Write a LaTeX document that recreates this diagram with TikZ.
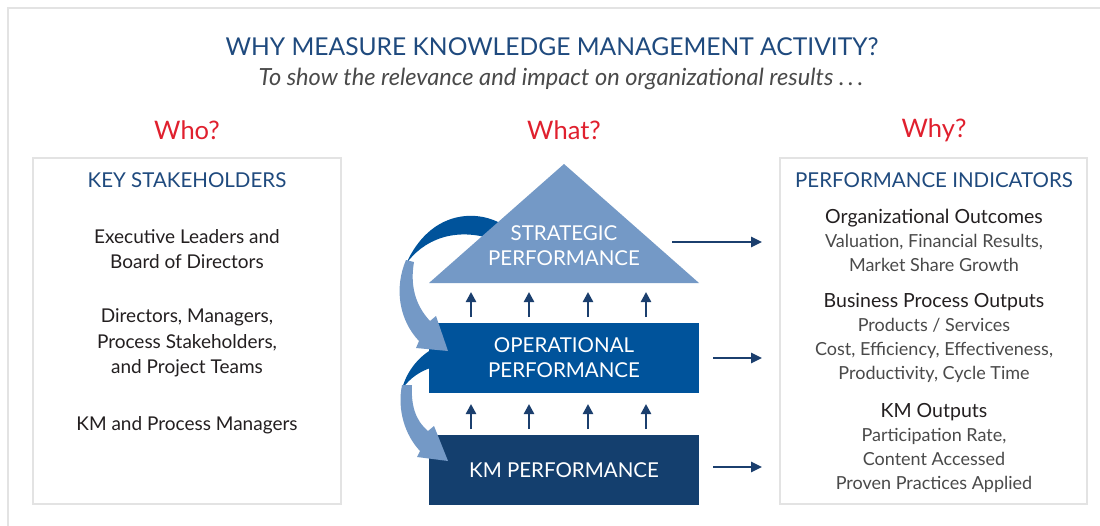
\documentclass[tikz,border=0pt]{standalone}
\usepackage{fontspec}
\setmainfont{Lato}
\usetikzlibrary{arrows.meta}
\definecolor{titleblue}{HTML}{1F4A7E}
\definecolor{whyred}{HTML}{E0202E}
\definecolor{lightblue}{HTML}{7499C6}
\definecolor{midblue}{HTML}{00539B}
\definecolor{darkblue}{HTML}{143F6E}
\definecolor{arrowblue}{HTML}{1B3F6E}
\definecolor{framegray}{HTML}{E3E3E3}
\definecolor{textdark}{HTML}{231F20}
\definecolor{textgray}{HTML}{4A4A4A}
\begin{document}
\begin{tikzpicture}[x=1pt,y=-1pt,
  panel/.style={draw=framegray, line width=2.5pt, fill=white},
  heading/.style={text=titleblue, font=\fontsize{20.5}{24}\selectfont},
  body/.style={text=textdark, align=center, font=\fontsize{19}{25.5}\selectfont, inner sep=0pt},
  ind/.style={align=center, font=\fontsize{18}{24}\selectfont, inner sep=0pt},
  question/.style={text=whyred, font=\fontsize{25.5}{30}\selectfont},
  layer/.style={minimum width=270pt, minimum height=70pt, inner sep=0pt, text=white, align=center, font=\fontsize{20.5}{25}\selectfont},
  uparrow/.style={draw=arrowblue, line width=2.4pt, -{Triangle[length=10pt,width=10pt]}},
  rarrow/.style={draw=arrowblue, line width=2.5pt, -{Triangle[length=11pt,width=10pt]}}]
\useasboundingbox (0,0) rectangle (1100,525);
\fill[white] (0,0) rectangle (1100,525);
% outer frame
\draw[framegray, line width=2.5pt] (8,527) -- (8,8) -- (1102,8);
% title
\node[text=titleblue, font=\fontsize{24.6}{30}\selectfont] (title) at (552,47) {WHY MEASURE KNOWLEDGE MANAGEMENT ACTIVITY?};
\node[text=textgray, font=\fontsize{23.6}{28}\selectfont\itshape] (subtitle) at (561,79) {To show the relevance and impact on organizational results~.\,.\,.};
% questions
\node[question] (who) at (187,130) {Who?};
\node[question] (what) at (564,130) {What?};
\node[question] (why) at (934,130) {Why?};
% panels
\draw[panel] (33,158) rectangle (341,504);
\draw[panel] (780,158) rectangle (1087,504);
% left panel text
\node[heading] (ks) at (187,180) {KEY STAKEHOLDERS};
\node[body] (exec) at (187,249) {Executive Leaders and\\Board of Directors};
\node[body] (dirs) at (187,343) {Directors, Managers,\\Process Stakeholders,\\and Project Teams};
\node[body] (kmpm) at (187,425) {KM and Process Managers};
% right panel text
\node[heading] (pi) at (934,180) {PERFORMANCE INDICATORS};
\node[ind] (oo) at (934,240) {\textcolor{textdark}{\fontsize{19.5}{24}\selectfont Organizational Outcomes}\\\textcolor{textgray}{Valuation, Financial Results,}\\\textcolor{textgray}{Market Share Growth}};
\node[ind] (bpo) at (934,338) {\textcolor{textdark}{\fontsize{19.5}{24}\selectfont Business Process Outputs}\\\textcolor{textgray}{Products / Services}\\\textcolor{textgray}{Cost, Efficiency, Effectiveness,}\\\textcolor{textgray}{Productivity, Cycle Time}};
\node[ind] (kmo) at (934,448) {\textcolor{textdark}{\fontsize{19.5}{24}\selectfont KM Outputs}\\\textcolor{textgray}{Participation Rate,}\\\textcolor{textgray}{Content Accessed}\\\textcolor{textgray}{Proven Practices Applied}};
% curved arrow 1, back (dark) part
\fill[midblue] (505,226) .. controls (478,208) and (430,210) .. (406,264)
  .. controls (423,240) and (455,226) .. (495,240) -- cycle;
% strategic triangle
\fill[lightblue] (564,164) -- (699,283) -- (429,283) -- cycle;
\node[layer, minimum height=0pt, minimum width=0pt] (strat) at (564,246) {STRATEGIC\\PERFORMANCE};
% curved arrow 2, back (dark) part
\fill[midblue] (436,347) .. controls (420,355) and (407,370) .. (402,389)
  .. controls (411,377) and (420,371) .. (436,366) -- cycle;
% operational
\node[layer, fill=midblue] (oper) at (564,358) {OPERATIONAL\\PERFORMANCE};
% curved arrow 1, front (light) part
\fill[lightblue] (406,260) .. controls (394,288) and (399,320) .. (419,341)
  -- (416,348) -- (448,351) -- (436,316) -- (430,321)
  .. controls (415,305) and (410,285) .. (414,262) -- cycle;
% KM
\node[layer, fill=darkblue] (kmp) at (564,470) {KM PERFORMANCE};
% curved arrow 2, front (light) part
\fill[lightblue] (402,385) .. controls (397,410) and (405,435) .. (420,451)
  -- (417,457) -- (448,461) -- (434,426) -- (428,431)
  .. controls (415,420) and (411,405) .. (412,385) -- cycle;
% up arrows
\foreach \x in {471,529,588,646} {
  \coordinate (s\x) at (\x,292);
  \coordinate (o\x) at (\x,317);
  \coordinate (p\x) at (\x,404);
  \coordinate (k\x) at (\x,429);
  \draw[uparrow] (o\x) -- (s\x);
  \draw[uparrow] (k\x) -- (p\x);
}
% right arrows
\coordinate (f1) at (672,242);
\coordinate (f2) at (713,358);
\coordinate (f3) at (713,467);
\coordinate (t1) at (762,242);
\coordinate (t2) at (762,358);
\coordinate (t3) at (762,467);
\draw[rarrow] (f1) -- (t1);
\draw[rarrow] (f2) -- (t2);
\draw[rarrow] (f3) -- (t3);
\end{tikzpicture}
\end{document}
